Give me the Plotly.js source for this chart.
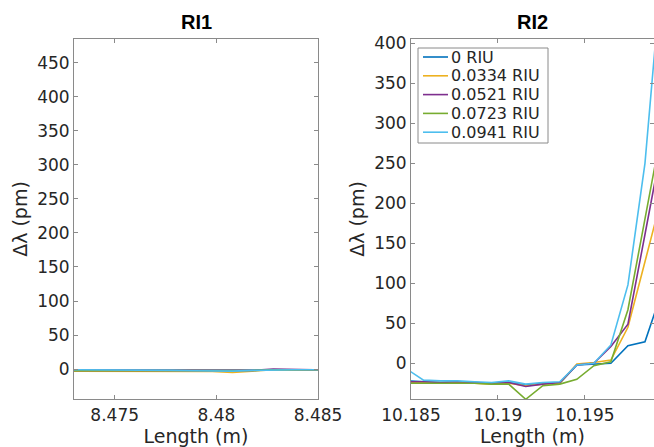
<!DOCTYPE html>
<html><head><meta charset="utf-8">
<script src="https://cdn.plot.ly/plotly-3.0.1.min.js"></script>
<style>html,body{margin:0;padding:0;overflow:hidden;background:#fff}</style>
</head><body><div id="chart" style="width:654px;height:447px"></div>
<script>
// ---- data ----
const seriesNames = ['0 RIU', '0.0334 RIU', '0.0521 RIU', '0.0723 RIU', '0.0941 RIU'];
const seriesColors = ['#0072BD', '#EDB120', '#7E2F8E', '#77AC30', '#4DBEEE'];

// RI1 panel
const ri1Length = [8.4728, 8.4738, 8.4748, 8.4758, 8.4768, 8.4778, 8.4788, 8.4798, 8.4808, 8.4818, 8.4828, 8.4838, 8.4848, 8.4858];
const ri1_0     = [-2, -2, -2, -2, -2, -2.5, -3, -3, -3, -2, -1, -1, -1, -1];
const ri1_0334  = [-3, -3, -3, -3, -3, -3, -3, -3.5, -5, -3, -1, -1, -2, -2];
const ri1_0521  = [-2, -2, -2, -2, -2, -3, -3, -3, -3, -2, 0, -1, -1, -1];
const ri1_0723  = [-2.5, -2.5, -2, -2, -2, -3, -3, -3, -3, -2, -1, -1, -1, -1];
const ri1_0941  = [-1, -1, -1, -1, -1, -2, -2.5, -3, -3, -2, -1, -1, -1, -1.5];

// RI2 panel
const ri2Length = [10.18474, 10.18572, 10.1867, 10.18768, 10.18866, 10.18964, 10.19062, 10.1916, 10.19258, 10.19356, 10.19454, 10.19552, 10.1965, 10.19748, 10.19846, 10.19944];
const ri2_0     = [-22, -23, -24, -23, -24, -25, -24, -27, -25, -25, -2, -1, 0, 22, 27, 90];
const ri2_0334  = [-24, -24, -24.5, -24, -25, -26, -25, -28, -26, -25, -1, 1, 4, 45, 127, 209];
const ri2_0521  = [-23, -23, -24, -23, -24, -25, -24, -29, -26, -24, -2, 0, 21, 49, 161, 274];
const ri2_0723  = [-25, -25, -25, -25, -25, -26, -26, -45, -28, -26, -20, -3, 2, 67, 178, 294];
const ri2_0941  = [-7, -21, -22, -22, -23, -24, -22, -26, -24, -23, -2, 0, 23, 98, 250, 496];

const ri1Series = [ri1_0, ri1_0334, ri1_0521, ri1_0723, ri1_0941];
const ri2Series = [ri2_0, ri2_0334, ri2_0521, ri2_0723, ri2_0941];

const ri1XTicks = [8.475, 8.48, 8.485];
const ri1XTickText = ['8.475', '8.48', '8.485'];
const ri2XTicks = [10.185, 10.19, 10.195];
const ri2XTickText = ['10.185', '10.19', '10.195'];
const ri1YTicks = [0, 50, 100, 150, 200, 250, 300, 350, 400, 450];
const ri2YTicks = [0, 50, 100, 150, 200, 250, 300, 350, 400];
const panelTitles = ['RI1', 'RI2'];

// ---- build ----
const W = 654, H = 447;
const px = v => v / W;
const py = v => 1 - v / H;

const traces = [];
ri1Series.forEach((ys, i) => traces.push({
  x: ri1Length, y: ys, xaxis: 'x', yaxis: 'y', type: 'scatter', mode: 'lines',
  name: seriesNames[i], line: {color: seriesColors[i], width: 1.6}, showlegend: false
}));
ri2Series.forEach((ys, i) => traces.push({
  x: ri2Length, y: ys, xaxis: 'x2', yaxis: 'y2', type: 'scatter', mode: 'lines',
  name: seriesNames[i], line: {color: seriesColors[i], width: 1.6}, showlegend: false
}));

const axisColor = '#8a8a8a';
const textColor = '#262626';
const FONT = 'DejaVu Sans, sans-serif';

function axBase() {
  return {
    showgrid: false, zeroline: false, showline: true, linecolor: axisColor, linewidth: 1,
    mirror: 'ticks', ticks: 'inside', ticklen: 4, tickcolor: axisColor, tickwidth: 1,
    tickfont: {family: FONT, size: 17, color: textColor}, automargin: false, fixedrange: true
  };
}
const yDom = [1 - 399 / H, 1 - 39 / H];

const layout = {
  width: W, height: H, margin: {l: 0, r: 0, t: 0, b: 0},
  paper_bgcolor: '#fff', plot_bgcolor: '#fff', showlegend: false,
  font: {family: FONT, color: textColor},
  xaxis: Object.assign(axBase(), {domain: [px(74), px(318)], anchor: 'y', range: [8.473, 8.485],
    tickmode: 'array', tickvals: ri1XTicks, ticktext: ri1XTickText, ticklabelstandoff: 1,
    title: {text: 'Length (m)', font: {family: FONT, size: 19, color: textColor}, standoff: 1}}),
  yaxis: Object.assign(axBase(), {domain: yDom, anchor: 'x', range: [-44, 485],
    tickmode: 'array', tickvals: ri1YTicks,
    title: {text: 'Δλ (pm)', font: {family: FONT, size: 19, color: textColor}, standoff: 4}}),
  xaxis2: Object.assign(axBase(), {domain: [px(411), 1], anchor: 'y2', range: [10.185, 10.19898],
    tickmode: 'array', tickvals: ri2XTicks, ticktext: ri2XTickText, ticklabelstandoff: 1,
    title: {text: 'Length (m)', font: {family: FONT, size: 19, color: textColor}, standoff: 1}}),
  yaxis2: Object.assign(axBase(), {domain: yDom, anchor: 'x2', range: [-44.6, 405.4],
    tickmode: 'array', tickvals: ri2YTicks,
    title: {text: 'Δλ (pm)', font: {family: FONT, size: 19, color: textColor}, standoff: 4}}),
  annotations: [],
  shapes: []
};

// panel titles
['x', 'x2'].forEach((xr, i) => layout.annotations.push({
  xref: xr + ' domain', yref: 'paper', x: 0.5, y: py(22), xanchor: 'center', yanchor: 'middle',
  text: '<b>' + panelTitles[i] + '</b>', showarrow: false,
  font: {family: 'Liberation Sans, Arial, sans-serif', size: 20, color: '#000'}
}));

// legend (drawn in the RI2 panel)
const lg = {left: 418, right: 548, top: 48, bottom: 143, row0: 57, rowStep: 18.8, lx0: 423, lx1: 448, tx: 450};
layout.shapes.push({type: 'rect', xref: 'paper', yref: 'paper',
  x0: px(lg.left), x1: px(lg.right), y0: py(lg.bottom), y1: py(lg.top),
  line: {color: axisColor, width: 1}, fillcolor: '#fff', layer: 'above'});
seriesNames.forEach((nm, i) => {
  const yy = py(lg.row0 + i * lg.rowStep);
  layout.shapes.push({type: 'line', xref: 'paper', yref: 'paper',
    x0: px(lg.lx0), x1: px(lg.lx1), y0: yy, y1: yy,
    line: {color: seriesColors[i], width: 1.6}, layer: 'above'});
  layout.annotations.push({xref: 'paper', yref: 'paper', x: px(lg.tx), y: yy,
    xanchor: 'left', yanchor: 'middle', text: nm, showarrow: false, borderpad: 0,
    font: {family: FONT, size: 16, color: textColor}});
});

Plotly.newPlot('chart', traces, layout, {staticPlot: true, displayModeBar: false});
</script></body></html>
